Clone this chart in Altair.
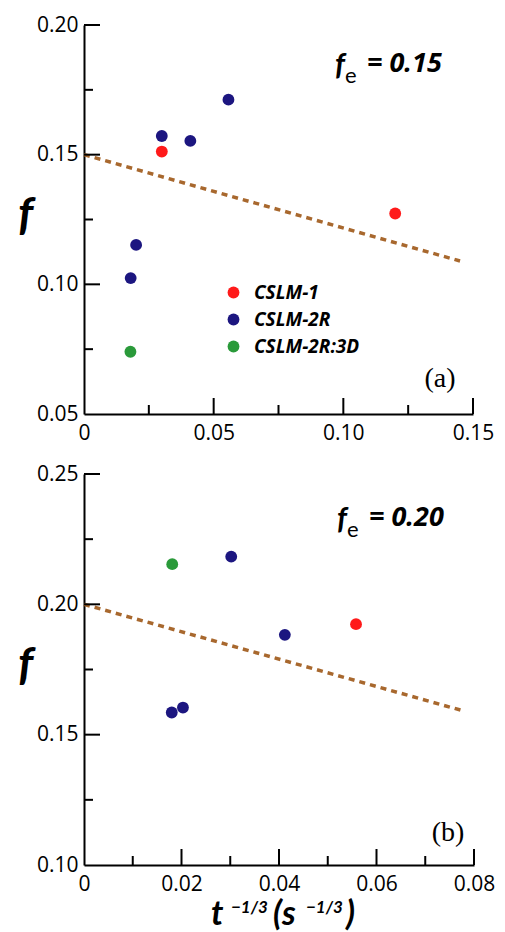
import altair as alt
import pandas as pd

# ---------------- data ----------------
series_names = ["CSLM-1", "CSLM-2R", "CSLM-2R:3D"]
series_colors = ["#ff1a1a", "#1c1680", "#2a9a3a"]
series_sizes = [140, 140, 200]

# panel (a): f_e = 0.15
a_series = ["CSLM-1", "CSLM-1", "CSLM-2R", "CSLM-2R", "CSLM-2R", "CSLM-2R", "CSLM-2R", "CSLM-2R:3D"]
a_x = [0.030, 0.120, 0.030, 0.041, 0.0557, 0.0201, 0.018, 0.0179]
a_y = [0.1512, 0.1273, 0.1572, 0.1553, 0.1712, 0.1152, 0.1024, 0.074]
a_fit_x = [0.0, 0.145]
a_fit_y = [0.15, 0.109]

# panel (b): f_e = 0.20
b_series = ["CSLM-1", "CSLM-2R", "CSLM-2R", "CSLM-2R", "CSLM-2R", "CSLM-2R:3D"]
b_x = [0.0558, 0.0302, 0.0412, 0.018, 0.0203, 0.0181]
b_y = [0.1924, 0.2183, 0.1883, 0.1585, 0.1604, 0.2154]
b_fit_x = [0.0, 0.0773]
b_fit_y = [0.20, 0.1594]

# axes / ticks
a_x_domain = [0.0, 0.15]
a_y_domain = [0.05, 0.20]
a_x_labels = [0.0, 0.05, 0.10, 0.15]
a_y_labels = [0.05, 0.10, 0.15, 0.20]
a_x_major = [0.05, 0.10, 0.15]
a_x_minor = [0.025, 0.075, 0.125]
a_y_major = [0.10, 0.15, 0.20]
a_y_minor = [0.075, 0.125, 0.175]

b_x_domain = [0.0, 0.08]
b_y_domain = [0.10, 0.25]
b_x_labels = [0.0, 0.02, 0.04, 0.06, 0.08]
b_y_labels = [0.10, 0.15, 0.20, 0.25]
b_x_major = [0.02, 0.04, 0.06, 0.08]
b_x_minor = [0.01, 0.03, 0.05, 0.07]
b_y_major = [0.15, 0.20, 0.25]
b_y_minor = [0.125, 0.175, 0.225]

FONT = "Lato"
NUMFONT = "Open Sans"
MAJ, MIN = 16, 9


def one_row():
    return pd.DataFrame({"k": [0]})


def txt(text, x, y, size, weight="bold", style="italic", font=FONT, align="left", baseline="alphabetic"):
    return alt.Chart(one_row()).mark_text(
        text=text, font=font, fontSize=size, fontWeight=weight, fontStyle=style,
        align=align, baseline=baseline, color="black"
    ).encode(x=alt.value(x), y=alt.value(y))


def panel(W, H, series, xs, ys, fit_x, fit_y, xdom, ydom, xlab, ylab,
          xmaj, xmin, ymaj, ymin, fe_text, letter, letter_pos, fe_pos, legend, extra):
    pts = pd.DataFrame({"x": xs, "y": ys, "s": series})
    fit = pd.DataFrame({"x": fit_x, "y": fit_y})

    xaxis = alt.Axis(values=xlab, ticks=False, grid=False, domainColor="black", domainWidth=2,
                     labelFont=NUMFONT, labelFontSize=21, labelColor="black", labelPadding=8,
                     labelFlush=False, labelOverlap=False, title=None,
                     labelExpr="datum.value == 0 ? '0' : format(datum.value, '.2f')")
    yaxis = alt.Axis(values=ylab, ticks=False, grid=False, domainColor="black", domainWidth=2,
                     labelFont=NUMFONT, labelFontSize=21, labelColor="black", labelPadding=6,
                     labelFlush=False, labelOverlap=False, title=None, format=".2f")
    X = alt.X("x:Q", scale=alt.Scale(domain=xdom, nice=False, zero=False), axis=xaxis)
    Y = alt.Y("y:Q", scale=alt.Scale(domain=ydom, nice=False, zero=False), axis=yaxis)

    if legend:
        leg = alt.Legend(title=None, orient="none", legendX=140, legendY=258, padding=0,
                         symbolType="circle", symbolStrokeWidth=0, symbolOpacity=1,
                         labelFont=NUMFONT, labelFontSize=19, labelFontWeight="bold",
                         labelFontStyle="italic", labelColor="black", labelOffset=11,
                         rowPadding=7)
    else:
        leg = None
    color = alt.Color("s:N", scale=alt.Scale(domain=series_names, range=series_colors), legend=leg)
    size = alt.Size("s:N", scale=alt.Scale(domain=series_names, range=series_sizes), legend=leg)

    line = alt.Chart(fit).mark_line(color="#a8682e", strokeWidth=3.5, strokeDash=[6, 5]).encode(x=X, y=Y)
    dots = alt.Chart(pts).mark_circle(opacity=1).encode(x=X, y=Y, color=color, size=size)

    def xt(vals, L):
        return alt.Chart(pd.DataFrame({"x": vals})).mark_rule(color="black", strokeWidth=2).encode(
            x=X, y=alt.value(H), y2=alt.value(H - L))

    def yt(vals, L):
        return alt.Chart(pd.DataFrame({"y": vals})).mark_rule(color="black", strokeWidth=2).encode(
            y=Y, x=alt.value(0), x2=alt.value(L))

    layers = [line, dots, xt(xmaj, MAJ), xt(xmin, MIN), yt(ymaj, MAJ), yt(ymin, MIN)]
    # y title "f"
    layers.append(txt("f", -66, H * 0.49, 46, baseline="middle", align="left"))
    # f_e annotation
    layers.append(txt("f", fe_pos[0], fe_pos[1] + 3, 30))
    layers.append(txt("e", fe_pos[0] + 10, fe_pos[1] + 11, 22, weight="normal", style="normal"))
    layers.append(txt(fe_text, fe_pos[0] + 32, fe_pos[1], 27, font=NUMFONT))
    # panel letter
    layers.append(txt(letter, letter_pos[0], letter_pos[1], 28, weight="normal", style="normal",
                      font="Liberation Serif", align="center", baseline="middle"))
    layers += extra
    return alt.layer(*layers).properties(width=W, height=H)


top = panel(389, 389, a_series, a_x, a_y, a_fit_x, a_fit_y, a_x_domain, a_y_domain,
            a_x_labels, a_y_labels, a_x_major, a_x_minor, a_y_major, a_y_minor,
            "= 0.15", "(a)", (356, 354), (251, 47), True, [])

xtitle = [
    txt("t", 127, 451, 34),
    txt("\u22121/3", 147, 439, 17),
    txt("(s", 189, 451, 34),
    txt("\u22121/3", 222, 439, 17),
    txt(")", 262, 451, 34),
]
bottom = panel(390, 391, b_series, b_x, b_y, b_fit_x, b_fit_y, b_x_domain, b_y_domain,
               b_x_labels, b_y_labels, b_x_major, b_x_minor, b_y_major, b_y_minor,
               "= 0.20", "(b)", (364, 359), (253, 52), False, xtitle)

chart = alt.vconcat(top, bottom, spacing=20).resolve_legend(
    color="independent", size="independent"
).configure_view(stroke=None).properties(
    padding={"left": 18, "top": 14, "right": 0, "bottom": 0},
    background="white",
)

chart.save("out.html", embed_options={"renderer": "svg", "actions": False})
